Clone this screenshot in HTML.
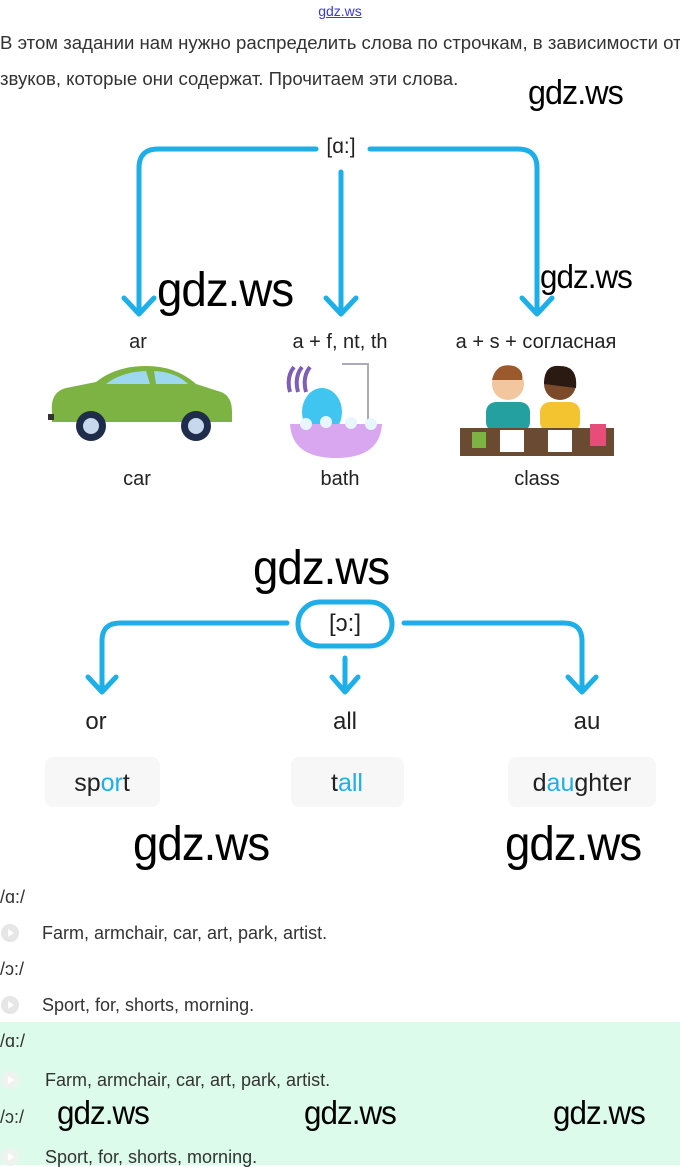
<!DOCTYPE html>
<html><head><meta charset="utf-8">
<style>
html,body{margin:0;padding:0}
body{width:680px;height:1165px;position:relative;overflow:hidden;background:#fff;font-family:"Liberation Sans",sans-serif;color:#222}
.t{position:absolute;line-height:1;white-space:nowrap}
.c{transform:translateX(-50%)}
.w{font-family:"Liberation Sans",sans-serif;color:#000;letter-spacing:-1px;transform:scaleX(0.95);transform-origin:left top}
.b{color:#1eaee8}
.box{position:absolute;background:#f7f7f8;border-radius:8px}
.ic{position:absolute;width:18px;height:18px;border-radius:50%;background:#e6e6e6}
.ic:after{content:"";position:absolute;left:7px;top:5px;border-left:6px solid #fff;border-top:4px solid transparent;border-bottom:4px solid transparent}
.p{font-size:18.6px;color:#333}
.l{font-size:18px;color:#333}
</style></head><body>
<div class="t c" style="left:340px;top:4px;font-size:14px;color:#3a3adf;text-decoration:underline">gdz.ws</div>
<div class="t p" style="left:0;top:34px">В этом задании нам нужно распределить слова по строчкам, в зависимости от</div>
<div class="t p" style="left:0;top:70px">звуков, которые они содержат. Прочитаем эти слова.</div>
<div class="t w" style="left:528px;top:76px;font-size:34px">gdz.ws</div>

<svg style="position:absolute;left:0;top:0" width="680" height="720">
<g fill="none" stroke="#1eaee8" stroke-width="5" stroke-linecap="round" stroke-linejoin="round">
<path d="M316 149 H158 Q139 149 139 168 V312"/>
<path d="M124 298 L139 314 L154 298"/>
<path d="M370 149 H518 Q537 149 537 168 V312"/>
<path d="M522 298 L537 314 L552 298"/>
<path d="M341 172 V312"/>
<path d="M326 298 L341 314 L356 298"/>
<path d="M287 623 H120 Q102 623 102 641 V690"/>
<path d="M88 677 L102 692 L116 677"/>
<path d="M404 623 H564 Q582 623 582 641 V690"/>
<path d="M568 677 L582 692 L596 677"/>
<path d="M345 658 V690"/>
<path d="M332 677 L345 692 L358 677"/>
<rect x="298" y="602" width="94" height="44" rx="22"/>
</g>
</svg>
<div class="t c" style="left:341px;top:136px;font-size:21px">[ɑ:]</div>
<div class="t c" style="left:345px;top:612px;font-size:24px">[ɔ:]</div>

<div class="t w" style="left:157px;top:267px;font-size:48px">gdz.ws</div>
<div class="t w" style="left:540px;top:260px;font-size:33px">gdz.ws</div>

<div class="t c" style="left:138px;top:332px;font-size:20px">ar</div>
<div class="t c" style="left:340px;top:332px;font-size:20px">a + f, nt, th</div>
<div class="t c" style="left:536px;top:332px;font-size:20px">a + s + согласная</div>

<svg style="position:absolute;left:46px;top:362px" width="190" height="82">
<path d="M6 50 Q4 30 20 26 L50 20 Q70 4 100 4 Q130 4 150 22 L175 30 Q186 34 186 50 L186 60 L6 60 Z" fill="#7cb342"/>
<path d="M60 22 Q75 10 100 9 L104 22 Z" fill="#9ed8f0"/><path d="M108 9 Q130 10 142 22 L110 22 Z" fill="#9ed8f0"/>
<rect x="2" y="52" width="6" height="6" fill="#333"/>
<circle cx="45" cy="64" r="15" fill="#1f2d4a"/><circle cx="45" cy="64" r="8" fill="#c7d7ec"/>
<circle cx="150" cy="64" r="15" fill="#1f2d4a"/><circle cx="150" cy="64" r="8" fill="#c7d7ec"/>
</svg>
<svg style="position:absolute;left:286px;top:362px" width="100" height="102">
<path d="M4 30 Q0 15 8 5 M12 30 Q8 15 16 5 M20 30 Q16 15 24 5" stroke="#7e5fb5" stroke-width="4" fill="none"/>
<path d="M56 2 H82 V80" stroke="#aab" stroke-width="2" fill="none"/>
<ellipse cx="36" cy="50" rx="20" ry="24" fill="#40c4f0"/>
<path d="M4 62 H96 Q94 96 50 96 Q6 96 4 62Z" fill="#d9a6f0"/>
<circle cx="20" cy="62" r="6" fill="#e8f6ff"/><circle cx="40" cy="60" r="6" fill="#e8f6ff"/><circle cx="65" cy="61" r="6" fill="#e8f6ff"/><circle cx="85" cy="62" r="6" fill="#e8f6ff"/>
</svg>
<svg style="position:absolute;left:460px;top:362px" width="156" height="96">
<circle cx="48" cy="22" r="16" fill="#f2c7a0"/><path d="M32 18 Q36 0 54 4 Q64 8 62 18 Z" fill="#9b5a2b"/>
<rect x="26" y="40" width="44" height="30" rx="10" fill="#25a0a0"/>
<circle cx="100" cy="22" r="16" fill="#7a4a2a"/><path d="M84 22 Q84 2 100 4 Q118 4 116 26" fill="#2a1a12"/>
<rect x="80" y="40" width="40" height="30" rx="10" fill="#f4c430"/>
<rect x="0" y="66" width="154" height="28" fill="#6b4a32"/>
<rect x="40" y="68" width="24" height="22" fill="#fff"/><rect x="88" y="68" width="24" height="22" fill="#fff"/>
<rect x="12" y="70" width="14" height="16" fill="#7cb342"/><rect x="130" y="62" width="16" height="22" fill="#e84d7a"/>
</svg>

<div class="t c" style="left:137px;top:469px;font-size:20px">car</div>
<div class="t c" style="left:340px;top:469px;font-size:20px">bath</div>
<div class="t c" style="left:537px;top:469px;font-size:20px">class</div>

<div class="t w" style="left:253px;top:545px;font-size:48px">gdz.ws</div>

<div class="t c" style="left:96px;top:710px;font-size:24px">or</div>
<div class="t c" style="left:345px;top:710px;font-size:24px">all</div>
<div class="t c" style="left:587px;top:710px;font-size:24px">au</div>

<div class="box" style="left:45px;top:757px;width:115px;height:50px"></div>
<div class="box" style="left:291px;top:757px;width:113px;height:50px"></div>
<div class="box" style="left:508px;top:757px;width:148px;height:50px"></div>
<div class="t c" style="left:102px;top:771px;font-size:25px">sp<span class="b">or</span>t</div>
<div class="t c" style="left:347px;top:771px;font-size:25px">t<span class="b">all</span></div>
<div class="t c" style="left:582px;top:771px;font-size:25px">d<span class="b">au</span>ghter</div>

<div class="t w" style="left:133px;top:821px;font-size:48px">gdz.ws</div>
<div class="t w" style="left:505px;top:821px;font-size:48px">gdz.ws</div>

<div class="t l" style="left:0;top:888px">/ɑ:/</div>
<div class="ic" style="left:1px;top:924px"></div>
<div class="t l" style="left:42px;top:924px">Farm, armchair, car, art, park, artist.</div>
<div class="t l" style="left:0;top:960px">/ɔ:/</div>
<div class="ic" style="left:1px;top:996px"></div>
<div class="t l" style="left:42px;top:996px">Sport, for, shorts, morning.</div>

<div style="position:absolute;left:0;top:1022px;width:680px;height:143px;background:#dcfbea"></div>
<div class="t l" style="left:0;top:1032px">/ɑ:/</div>
<div class="ic" style="left:1px;top:1071px;background:#eef3f0"></div>
<div class="t l" style="left:45px;top:1071px">Farm, armchair, car, art, park, artist.</div>
<div class="t l" style="left:0;top:1108px">/ɔ:/</div>
<div class="t w" style="left:57px;top:1096px;font-size:33px">gdz.ws</div>
<div class="t w" style="left:304px;top:1096px;font-size:33px">gdz.ws</div>
<div class="t w" style="left:553px;top:1096px;font-size:33px">gdz.ws</div>
<div class="ic" style="left:1px;top:1148px;background:#eef3f0"></div>
<div class="t l" style="left:45px;top:1148px">Sport, for, shorts, morning.</div>
</body></html>
